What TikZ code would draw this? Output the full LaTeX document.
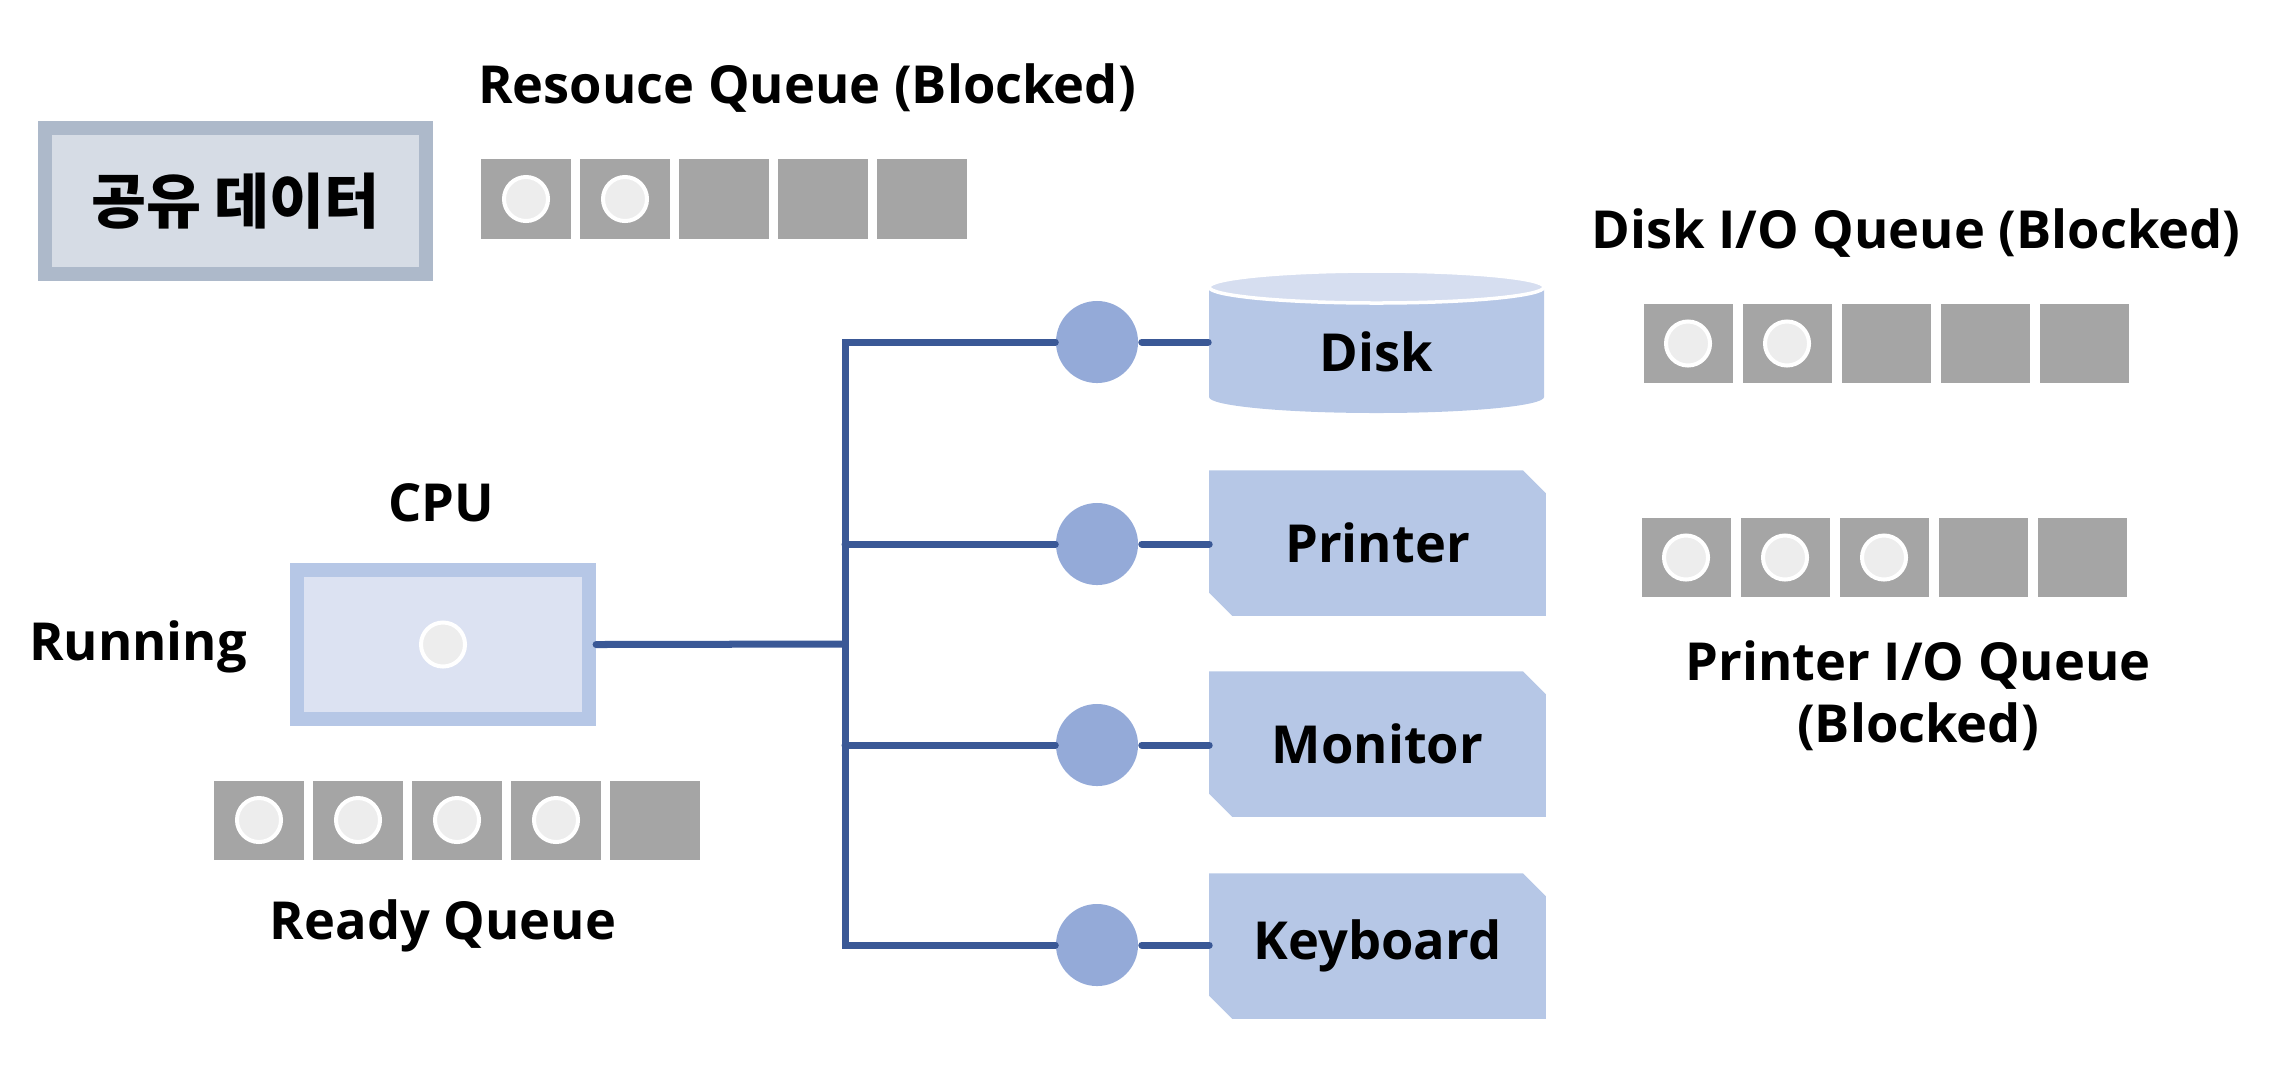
\documentclass[tikz,border=0pt]{standalone}
\usepackage{fontspec}
\setmainfont{Open Sans}
\newfontfamily\kr{Noto Sans CJK KR}
\usetikzlibrary{backgrounds}
\definecolor{cellgray}{HTML}{A5A5A5}
\definecolor{tokfill}{HTML}{EDEDED}
\definecolor{devfill}{HTML}{B6C7E6}
\definecolor{disktop}{HTML}{D6DEF0}
\definecolor{cpuout}{HTML}{B6C7E6}
\definecolor{cpuin}{HTML}{DCE2F2}
\definecolor{shout}{HTML}{ADB9CA}
\definecolor{shin}{HTML}{D6DCE5}
\definecolor{portblue}{HTML}{94AAD8}
\definecolor{busblue}{HTML}{3A5896}
\begin{document}
\begin{tikzpicture}[x=0.01cm,y=-0.01cm,
  lbl/.style={font=\fontsize{14.9pt}{17.6pt}\selectfont\bfseries, inner sep=0pt, align=center},
  qcell/.style={rectangle, fill=cellgray, minimum width=0.89cm, minimum height=0.79cm, inner sep=0pt},
  tok/.style={circle, fill=tokfill, draw=white, line width=0.04cm, minimum size=0.44cm, inner sep=0pt},
  dev/.style={rectangle, minimum width=3.35cm, minimum height=1.44cm, inner sep=0pt, lbl},
  port/.style={circle, fill=portblue, minimum size=0.82cm, inner sep=0pt},
  bus/.style={draw=busblue, line width=0.07cm, line cap=round, line join=miter}]
\useasboundingbox (0,0) rectangle (2280,1066);

% shared data
\node[draw=shout, fill=shin, line width=0.14cm, minimum width=3.81cm, minimum height=1.46cm, inner sep=0pt,
  font=\kr\fontsize{17pt}{20pt}\selectfont\bfseries] (shared) at (235.5,201) {공유 데이터};

% labels
\node[lbl] (rql) at (807,88) {Resouce Queue (Blocked)};
\node[lbl] (dql) at (1916,233) {Disk I/O Queue (Blocked)};
\node[lbl] (pql) at (1918,696) {Printer I/O Queue\\(Blocked)};
\node[lbl] (cpul) at (441,503) {CPU};
\node[lbl] (runl) at (138,647) {Running};
\node[lbl] (readyl) at (443,926) {Ready Queue};

% queues
\foreach \i in {0,...,4} {
  \node[qcell] (rq\i) at (526+99*\i,199) {};
  \node[qcell] (dq\i) at (1688+99*\i,343.5) {};
  \node[qcell] (pq\i) at (1686+99*\i,557.5) {};
  \node[qcell] (yq\i) at (259+99*\i,820) {};
}
\foreach \i in {0,1} {
  \node[tok] (rt\i) at (rq\i) {};
  \node[tok] (dt\i) at (dq\i) {};
}
\foreach \i in {0,1,2} \node[tok] (pt\i) at (pq\i) {};
\foreach \i in {0,...,3} \node[tok] (yt\i) at (yq\i) {};

% CPU
\node[draw=cpuout, fill=cpuin, line width=0.14cm, minimum width=2.92cm, minimum height=1.49cm, inner sep=0pt] (cpu) at (443,644.5) {};
\node[tok] (ct) at (cpu.center) {};

% devices
\node[dev, minimum height=1.1cm] (disk) at (1376.5,352) {Disk};
\node[dev] (prn) at (1377.5,543) {Printer};
\node[dev] (mon) at (1377.5,744) {Monitor};
\node[dev] (kbd) at (1377.5,946) {Keyboard};
\begin{scope}[on background layer]
  \fill[devfill] (1209,287) -- (1209,397) arc[start angle=180, end angle=0, x radius=167.5, y radius=16] -- (1544,287) -- cycle;
  \foreach \n in {prn,mon,kbd}
    \fill[devfill] (\n.north west) -- ([xshift=-0.23cm]\n.north east) -- ([yshift=-0.23cm]\n.north east)
      -- (\n.south east) -- ([xshift=0.23cm]\n.south west) -- ([yshift=0.23cm]\n.south west) -- cycle;
\end{scope}
\begin{scope}[on background layer]
  \filldraw[fill=disktop, draw=white, line width=0.035cm] (1376.5,287) ellipse [x radius=167.5, y radius=16];
\end{scope}

% ports
\node[port] (c1) at (1097,342) {};
\node[port] (c2) at (1097,544) {};
\node[port] (c3) at (1097,745) {};
\node[port] (c4) at (1097,945) {};

% bus
\coordinate (b) at (845,644);
\draw[bus] (c1) -- (c1 -| b) -- (c4 -| b) -- (c4);
\draw[bus] (c2) -- (c2 -| b);
\draw[bus] (c3) -- (c3 -| b);
\draw[bus] (cpu.east) -- (b);
\draw[bus, shorten <=0.03cm] (c1) -- (c1 -| disk.west);
\draw[bus, shorten <=0.03cm] (c2) -- (c2 -| prn.west);
\draw[bus, shorten <=0.03cm] (c3) -- (c3 -| mon.west);
\draw[bus, shorten <=0.03cm] (c4) -- (c4 -| kbd.west);
\end{tikzpicture}
\end{document}
